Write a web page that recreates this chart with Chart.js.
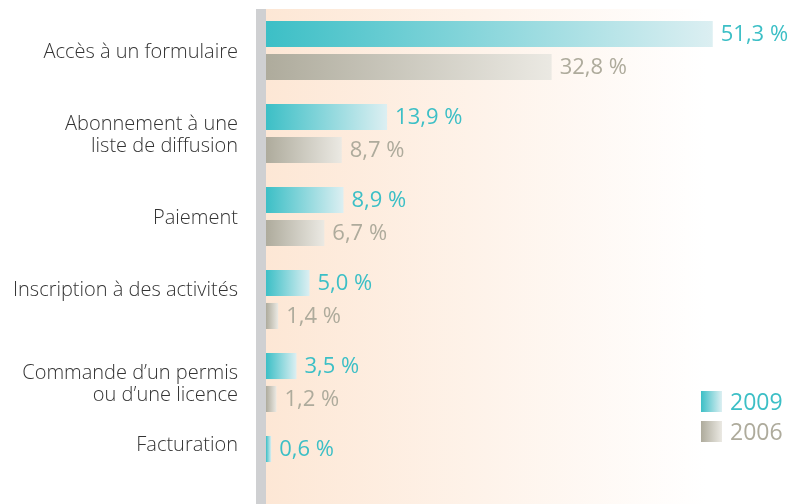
<!DOCTYPE html>
<html>
<head>
<meta charset="utf-8">
<script src="https://cdn.jsdelivr.net/npm/chart.js@4/dist/chart.umd.min.js"></script>
<style>
  html, body { margin: 0; padding: 0; background: #fff; overflow: hidden; }
  #wrap { position: relative; width: 792px; height: 507px; }
</style>
</head>
<body>
<div id="wrap"><canvas id="myChart" width="792" height="507"></canvas></div>
<script>
// data
let categories = [
    'Accès à un formulaire',
    ['Abonnement à une', 'liste de diffusion'],
    'Paiement',
    ['Inscription à des activités', ''],
    ['Commande d\u2019un permis', 'ou d\u2019une licence'],
    ['Facturation', '', '']
];
let values2009 = [51.3, 13.9, 8.9, 5.0, 3.5, 0.6];
let values2006 = [32.8, 8.7, 6.7, 1.4, 1.2, null];
let seriesNames = ['2009', '2006'];

// colors
let teal = '#3cbfc6';
let taupe = '#aeab9c';
let tealPale = '#dceff2';
let taupePale = '#ebe9e3';

let fmt = v => v.toFixed(1).replace('.', ',') + ' %';

// gradient per bar, from axis to bar end
function barGradient(from, to) {
    return function(ctx) {
        let chart = ctx.chart;
        if (!chart.chartArea || ctx.parsed == null || ctx.parsed.x == null) return from;
        let x0 = chart.scales.x.getPixelForValue(0);
        let x1 = chart.scales.x.getPixelForValue(ctx.parsed.x);
        if (x1 - x0 < 1) x1 = x0 + 1;
        let g = chart.ctx.createLinearGradient(x0, 0, x1, 0);
        g.addColorStop(0, from);
        g.addColorStop(1, to);
        return g;
    };
}

// background + gray axis strip
let backdrop = {
    id: 'backdrop',
    beforeDatasetsDraw(chart) {
        let c = chart.ctx, a = chart.chartArea;
        c.save();
        let g = c.createLinearGradient(a.left, 0, a.left + 440, 0);
        g.addColorStop(0, '#fde7d5');
        g.addColorStop(1, '#ffffff');
        c.fillStyle = g;
        c.fillRect(a.left, a.top, a.right - a.left, a.bottom - a.top);
        c.fillStyle = '#cfd0d2';
        c.fillRect(a.left - 10, a.top, 10, a.bottom - a.top);
        c.restore();
    }
};

// value labels at bar ends + legend
let labels = {
    id: 'labels',
    afterDatasetsDraw(chart) {
        let c = chart.ctx;
        c.save();
        c.font = '22px "Open Sans", sans-serif';
        c.textBaseline = 'middle';
        c.textAlign = 'left';
        chart.data.datasets.forEach((ds, i) => {
            c.fillStyle = i === 0 ? teal : taupe;
            chart.getDatasetMeta(i).data.forEach((bar, j) => {
                let v = ds.data[j];
                if (v == null) return;
                c.fillText(fmt(v), bar.x + 8, bar.y + 1);
            });
        });
        // legend
        let items = [[teal, tealPale], [taupe, taupePale]];
        items.forEach((col, i) => {
            let y = 391 + i * 30;
            let g = c.createLinearGradient(701, 0, 722, 0);
            g.addColorStop(0, col[0]);
            g.addColorStop(1, col[1]);
            c.fillStyle = g;
            c.fillRect(701, y, 21, 21);
            c.fillStyle = col[0];
            c.font = '23px "Open Sans", sans-serif';
            c.fillText(seriesNames[i], 730, y + 12);
        });
        c.restore();
    }
};

let myChart = document.getElementById('myChart').getContext('2d');

new Chart(myChart, {
    type: 'bar',
    data: {
        labels: categories,
        datasets: [{
            label: seriesNames[0],
            data: values2009,
            backgroundColor: barGradient(teal, tealPale),
            categoryPercentage: 0.795,
            barPercentage: 0.79,
        }, {
            label: seriesNames[1],
            data: values2006,
            backgroundColor: barGradient(taupe, taupePale),
            categoryPercentage: 0.795,
            barPercentage: 0.79,
        }]
    },
    plugins: [backdrop, labels],
    options: {
        indexAxis: 'y',
        responsive: false,
        animation: false,
        layout: { padding: { top: 9, right: 0, bottom: 0, left: 0 } },
        scales: {
            x: {
                display: false,
                min: 0,
                max: 60.4,
            },
            y: {
                afterFit(scale) {
                    scale.width = 266;
                    scale.paddingTop = 0;
                    scale.paddingBottom = 0;
                },
                grid: { display: false, drawTicks: false },
                border: { display: false },
                ticks: {
                    padding: 28,
                    labelOffset: 2,
                    color: '#333333',
                    font: { family: '"Open Sans", sans-serif', size: 20, weight: 300, lineHeight: 1.1 }
                }
            }
        },
        plugins: {
            legend: { display: false },
            tooltip: { enabled: false }
        }
    }
});
</script>
</body>
</html>
